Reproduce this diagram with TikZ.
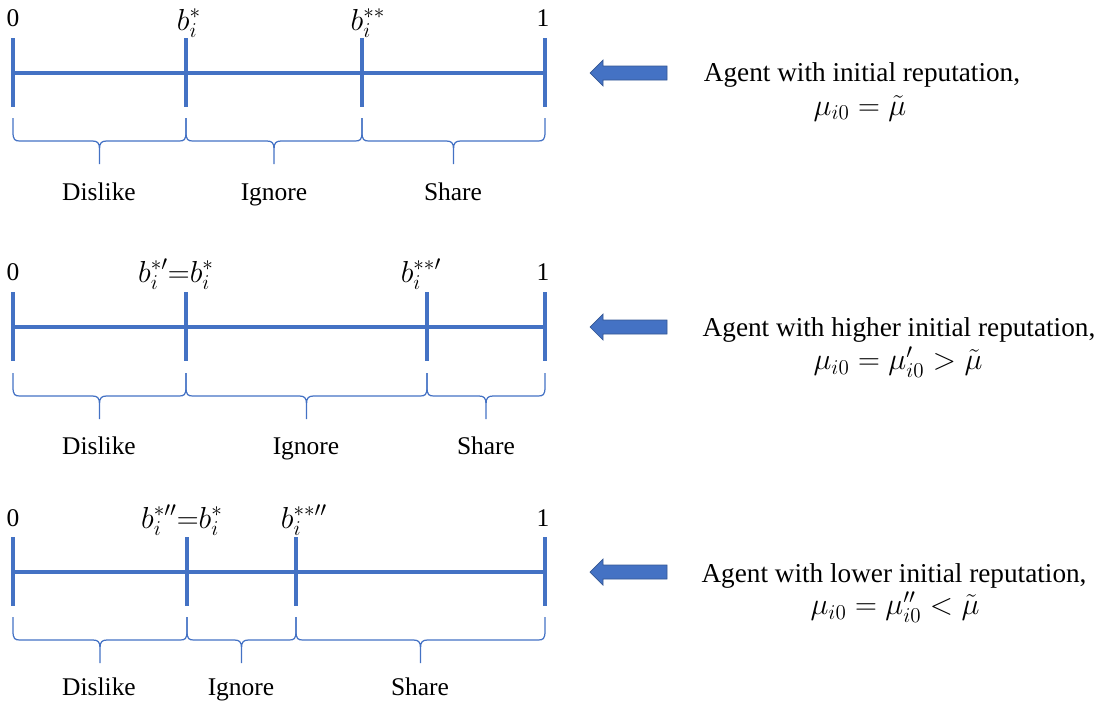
\documentclass[tikz,border=0pt]{standalone}
\usepackage{fontspec}
\setmainfont{Liberation Serif}
\usetikzlibrary{positioning}
\definecolor{lineblue}{RGB}{68,114,196}

\newcommand{\segbrace}[3]{%
  \pgfmathsetmacro{\bm}{(#1+#2)/2}
  \draw[bracket] (#1,#3) -- (#1,#3+14) .. controls (#1,#3+22) and (#1+2,#3+23) .. (#1+7,#3+23)
    -- (\bm-7,#3+23) .. controls (\bm-2,#3+23) and (\bm,#3+25) .. (\bm,#3+31) -- (\bm,#3+46)
    (\bm,#3+31) .. controls (\bm,#3+25) and (\bm+2,#3+23) .. (\bm+7,#3+23)
    -- (#2-7,#3+23) .. controls (#2-2,#3+23) and (#2,#3+22) .. (#2,#3+14) -- (#2,#3);
}

\begin{document}
\begin{tikzpicture}[x=0.02cm, y=-0.02cm,
    axis/.style={draw=lineblue, line width=2.2pt},
    bracket/.style={draw=lineblue, line width=0.7pt},
    lbl/.style={font=\fontsize{14.5}{17}\selectfont, inner sep=0pt, anchor=base},
    mlbl/.style={font=\fontsize{17.5}{20}\selectfont, inner sep=0pt},
    act/.style={font=\fontsize{14.5}{17}\selectfont, inner sep=0pt, text height=1.5ex, text depth=.3ex},
    desc/.style={font=\fontsize{15.5}{18}\selectfont, inner sep=0pt},
    pointer/.style={fill=lineblue, draw=lineblue!75!black, line width=0.4pt}
  ]
  \useasboundingbox (0,0) rectangle (1102,707);

  % initial reputation
  \coordinate (a0) at (13,73);
  \coordinate (a1) at (186,73);
  \coordinate (a2) at (362,73);
  \coordinate (a3) at (545,73);
  \draw[axis] (a0) -- (a3);
  \foreach \c in {a0,a1,a2,a3} \draw[axis] (\c) ++(0,-35) -- ++(0,69);
  \node[lbl] (a0lbl) at (13,26) {0};
  \node[mlbl, anchor=base] (a1lbl) at (189,30) {$b_i^{*}$};
  \node[mlbl, anchor=base] (a2lbl) at (368,30) {$b_i^{**}$};
  \node[lbl] (a3lbl) at (543,26) {1};
  \segbrace{13}{186}{118}
  \segbrace{186}{362}{118}
  \segbrace{362}{545}{118}
  \node[act] (a1act) at (99,196) {Dislike};
  \node[act] (a2act) at (274,196) {Ignore};
  \node[act] (a3act) at (453,196) {Share};
  \fill[pointer] (590,73) -- ++(13,-13) -- ++(0,6) -- ++(64,0) -- ++(0,14) -- ++(-64,0) -- ++(0,6) -- cycle;
  \node[desc] (atext) at (862,75) {Agent with initial reputation,};
  \node[mlbl] (amath) at (860,108) {$\mu_{i0} = \tilde{\mu}$};

  % higher reputation
  \coordinate (h0) at (13,327);
  \coordinate (h1) at (186,327);
  \coordinate (h2) at (427,327);
  \coordinate (h3) at (545,327);
  \draw[axis] (h0) -- (h3);
  \foreach \c in {h0,h1,h2,h3} \draw[axis] (\c) ++(0,-35) -- ++(0,69);
  \node[lbl] (h0lbl) at (13,280) {0};
  \node[mlbl, anchor=base] (h1lbl) at (176,282) {$b_i^{*\prime}{=}b_i^{*}$};
  \node[mlbl, anchor=base] (h2lbl) at (421,282) {$b_i^{**\prime}$};
  \node[lbl] (h3lbl) at (543,280) {1};
  \segbrace{13}{186}{373}
  \segbrace{186}{427}{373}
  \segbrace{427}{545}{373}
  \node[act] (h1act) at (99,450) {Dislike};
  \node[act] (h2act) at (306,450) {Ignore};
  \node[act] (h3act) at (486,450) {Share};
  \fill[pointer] (590,327) -- ++(13,-13) -- ++(0,6) -- ++(64,0) -- ++(0,14) -- ++(-64,0) -- ++(0,6) -- cycle;
  \node[desc] (htext) at (899,330) {Agent with higher initial reputation,};
  \node[mlbl] (hmath) at (898,362) {$\mu_{i0} = \mu_{i0}' > \tilde{\mu}$};

  % lower reputation
  \coordinate (l0) at (13,572);
  \coordinate (l1) at (187,572);
  \coordinate (l2) at (296,572);
  \coordinate (l3) at (545,572);
  \draw[axis] (l0) -- (l3);
  \foreach \c in {l0,l1,l2,l3} \draw[axis] (\c) ++(0,-35) -- ++(0,69);
  \node[lbl] (l0lbl) at (13,526) {0};
  \node[mlbl, anchor=base] (l1lbl) at (182,528) {$b_i^{*\prime\prime}{=}b_i^{*}$};
  \node[mlbl, anchor=base] (l2lbl) at (304,528) {$b_i^{**\prime\prime}$};
  \node[lbl] (l3lbl) at (543,526) {1};
  \segbrace{13}{187}{617}
  \segbrace{187}{296}{617}
  \segbrace{296}{545}{617}
  \node[act] (l1act) at (99,691) {Dislike};
  \node[act] (l2act) at (241,691) {Ignore};
  \node[act] (l3act) at (420,691) {Share};
  \fill[pointer] (590,572) -- ++(13,-13) -- ++(0,6) -- ++(64,0) -- ++(0,14) -- ++(-64,0) -- ++(0,6) -- cycle;
  \node[desc] (ltext) at (894,576) {Agent with lower initial reputation,};
  \node[mlbl] (lmath) at (895,607) {$\mu_{i0} = \mu_{i0}'' < \tilde{\mu}$};
\end{tikzpicture}
\end{document}
